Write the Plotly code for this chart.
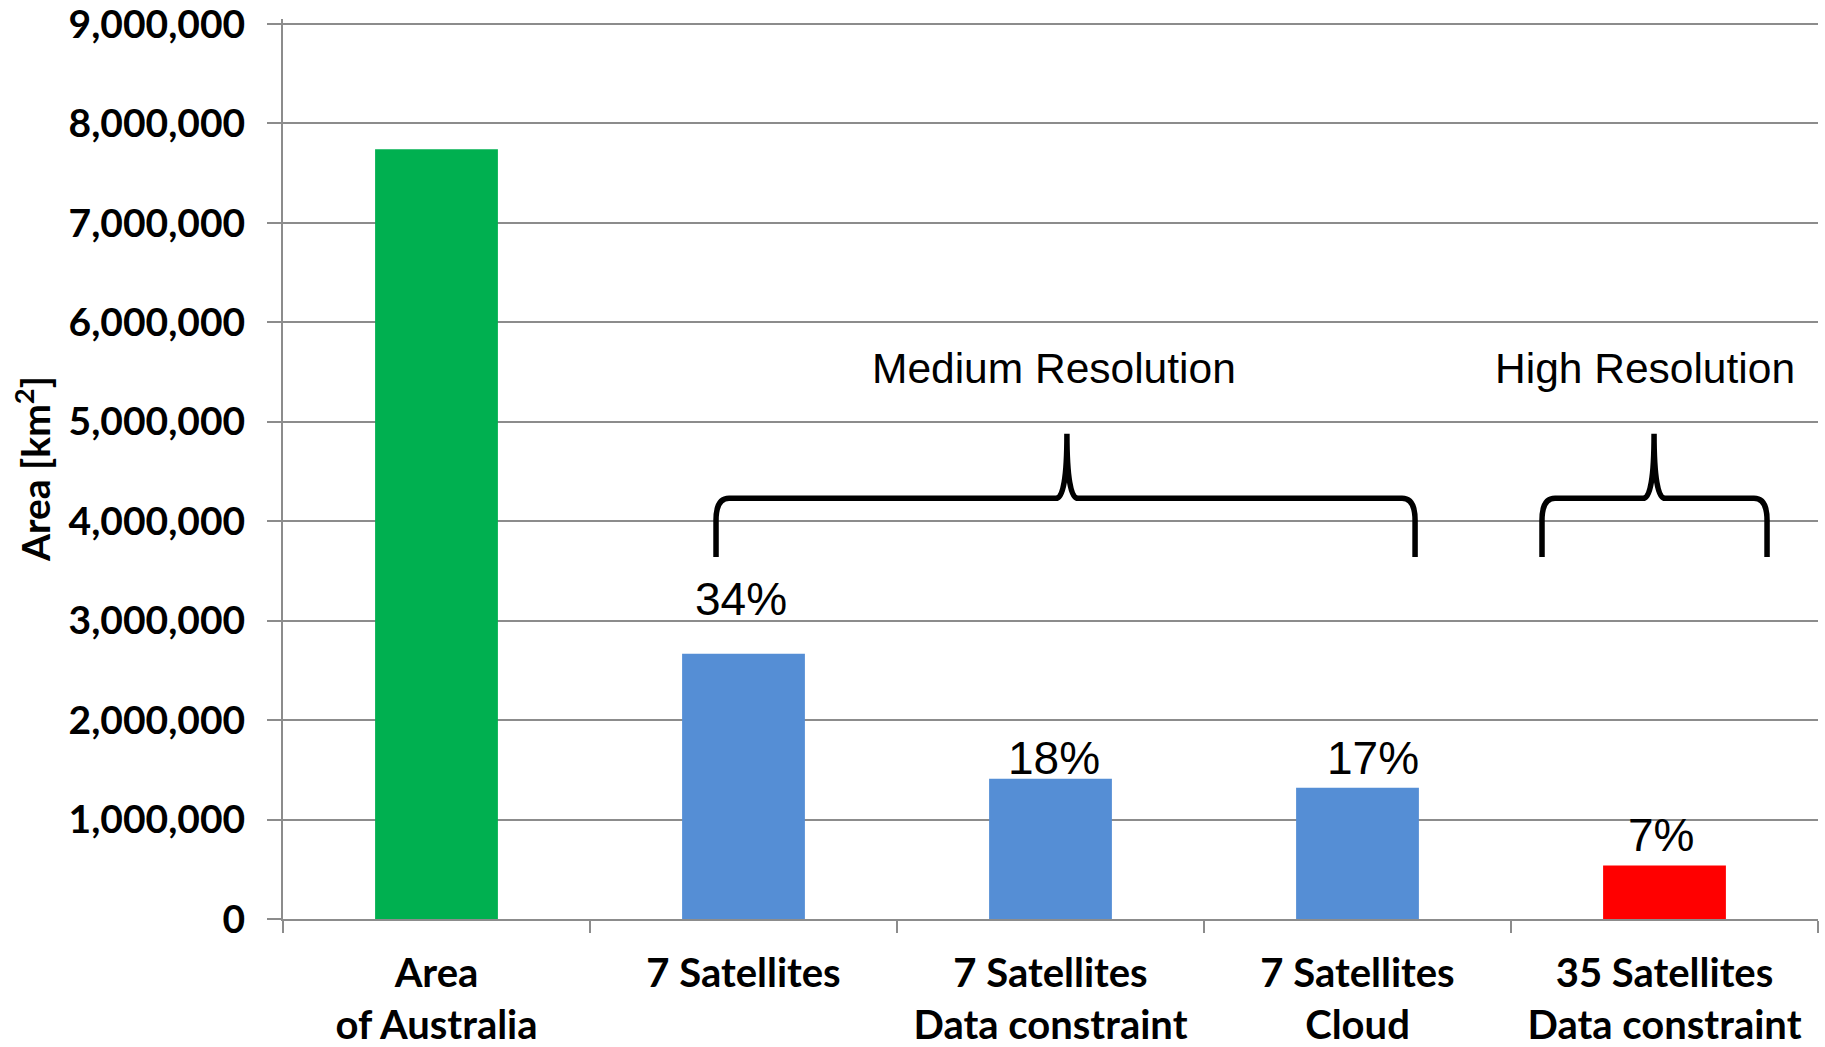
import plotly.graph_objects as go

# Area covered per observation scenario (km²)
categories = [
    "Area<br>of Australia",
    "7 Satellites",
    "7 Satellites<br>Data constraint",
    "7 Satellites<br>Cloud",
    "35 Satellites<br>Data constraint",
]
area_km2 = [7740000, 2668000, 1410000, 1320000, 538000]
bar_colors = ["#00B050", "#558ED5", "#558ED5", "#558ED5", "#FF0000"]

y_ticks = [0, 1000000, 2000000, 3000000, 4000000, 5000000, 6000000, 7000000, 8000000, 9000000]

group_labels = ["Medium Resolution", "High Resolution"]

GRID = "#8C8C8C"
TICK_FONT = dict(family="Lato", size=39, color="black", weight="bold")
ANN_FONT = "Liberation Sans, Arial"

fig = go.Figure()
fig.add_trace(go.Bar(
    x=categories,
    y=area_km2,
    marker=dict(color=bar_colors, line=dict(width=0)),
    hoverinfo="x+y",
))

# Percentage of the total area shown above each reduced-coverage bar
total = area_km2[0]
label_shift = [None, (-3, 55), (3, 21), (15, 30), (-4, 31)]
annotations = []
for i in range(1, len(categories)):
    dx, dy = label_shift[i]
    annotations.append(dict(
        x=categories[i], y=area_km2[i], xref="x", yref="y",
        text=f"{area_km2[i] / total:.0%}",
        showarrow=False, xanchor="center", yanchor="middle",
        xshift=dx, yshift=dy,
        font=dict(family=ANN_FONT, size=46, color="black"),
    ))

# Group captions above the braces
annotations.append(dict(x=0.5026, y=5.54e6, xref="paper", yref="y", text=group_labels[0],
                        showarrow=False, xanchor="center", yanchor="middle",
                        font=dict(family=ANN_FONT, size=42.5, color="black")))
annotations.append(dict(x=0.887, y=5.54e6, xref="paper", yref="y", text=group_labels[1],
                        showarrow=False, xanchor="center", yanchor="middle",
                        font=dict(family=ANN_FONT, size=42.5, color="black")))

# Y-axis title
annotations.append(dict(x=-0.1635, y=0.5, xref="paper", yref="paper",
                        text="Area [km<sup>2</sup>]", textangle=-90, showarrow=False,
                        xanchor="center", yanchor="middle",
                        font=dict(family="Lato", size=39, color="black", weight="bold")))


def brace_path(left, right, tip, bottom, level, top):
    """Curly brace opening downward; x in paper units, y in data units."""
    cx = 0.0085   # corner width (paper)
    cy = 0.22e6   # corner height (data)
    tx = 0.0072   # tip curve width (paper)
    return (
        f"M {left},{bottom} "
        f"L {left},{level - cy} "
        f"Q {left},{level} {left + cx},{level} "
        f"L {tip - tx},{level} "
        f"Q {tip},{level} {tip},{top} "
        f"Q {tip},{level} {tip + tx},{level} "
        f"L {right - cx},{level} "
        f"Q {right},{level} {right},{level - cy} "
        f"L {right},{bottom}"
    )


shapes = [
    dict(type="path", xref="paper", yref="y",
         path=brace_path(0.2821, 0.7375, 0.5107, 3.64e6, 4.23e6, 4.88e6),
         line=dict(color="black", width=5.5), fillcolor="rgba(0,0,0,0)"),
    dict(type="path", xref="paper", yref="y",
         path=brace_path(0.8202, 0.9668, 0.8932, 3.64e6, 4.23e6, 4.88e6),
         line=dict(color="black", width=5.5), fillcolor="rgba(0,0,0,0)"),
]

fig.update_layout(
    width=1825, height=1047,
    margin=dict(l=283, r=7, t=19, b=128, autoexpand=False),
    paper_bgcolor="white", plot_bgcolor="white",
    bargap=0.6,
    showlegend=False,
    annotations=annotations,
    shapes=shapes,
    xaxis=dict(
        type="category",
        showline=True, linecolor=GRID, linewidth=2,
        ticks="outside", tickson="boundaries", ticklen=12, tickwidth=2, tickcolor=GRID,
        showgrid=False,
        tickfont=dict(TICK_FONT, size=40),
        ticklabelstandoff=18,
    ),
    yaxis=dict(
        range=[0, 9050000],
        tickvals=y_ticks,
        tickformat=",d",
        showline=True, linecolor=GRID, linewidth=2,
        ticks="outside", ticklen=14, tickwidth=2, tickcolor=GRID,
        showgrid=True, gridcolor=GRID, gridwidth=2,
        zeroline=False,
        tickfont=TICK_FONT,
        ticklabelstandoff=14,
        ticklabeloverflow="allow",
    ),
)

fig.write_html("out.html")
